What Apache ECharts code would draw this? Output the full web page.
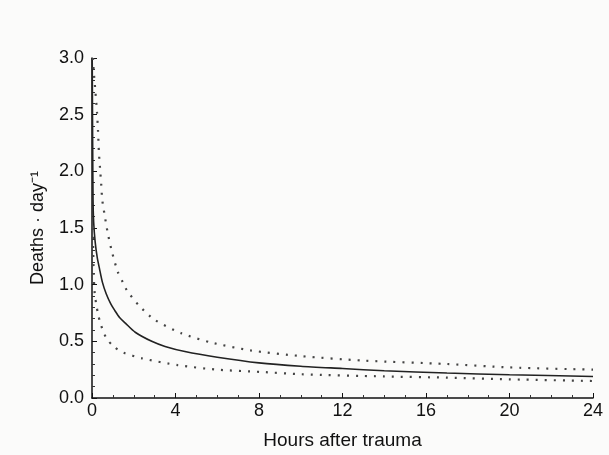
<!DOCTYPE html>
<html>
<head>
<meta charset="utf-8">
<script src="https://cdn.jsdelivr.net/npm/echarts@6/dist/echarts.min.js"></script>
<style>
html,body{margin:0;padding:0;background:#fbfbfa;}
#c{width:609px;height:455px;}
</style>
</head>
<body>
<div id="c"></div>
<script>
// Hours after trauma vs deaths per day
const solidCurve = [
  [0.01, 3.0], [0.03, 2.3], [0.05, 1.75], [0.08, 1.55], [0.15, 1.38], [0.25, 1.24],
  [0.36, 1.14], [0.5, 1.02], [0.68, 0.92], [0.9, 0.83], [1.1, 0.77], [1.32, 0.71],
  [1.6, 0.66], [2.07, 0.58], [2.86, 0.50], [3.5, 0.455], [4.45, 0.41], [6.0, 0.36],
  [8.0, 0.31], [10.0, 0.28], [12.0, 0.26], [14.0, 0.24], [17.0, 0.22], [20.0, 0.205], [24.0, 0.19]
];
const upperCurve = [
  [0.05, 3.0], [0.08, 2.89], [0.16, 2.71], [0.24, 2.52], [0.29, 2.35], [0.33, 2.17],
  [0.4, 1.99], [0.44, 1.89], [0.49, 1.75], [0.6, 1.62], [0.76, 1.45], [0.97, 1.28],
  [1.24, 1.11], [1.48, 1.02], [1.67, 0.95], [2.23, 0.82], [3.0, 0.69], [4.3, 0.57],
  [5.7, 0.49], [7.6, 0.42], [10.0, 0.37], [13.0, 0.33], [17.0, 0.30], [20.0, 0.27], [24.0, 0.25]
];
const lowerCurve = [
  [0.04, 1.5], [0.08, 1.1], [0.13, 0.92], [0.2, 0.83], [0.28, 0.75], [0.4, 0.66],
  [0.68, 0.53], [1.06, 0.45], [1.5, 0.40], [2.4, 0.35], [4.1, 0.29], [6.0, 0.25],
  [8.1, 0.23], [10.0, 0.21], [14.0, 0.19], [17.0, 0.18], [20.0, 0.165], [24.0, 0.15]
];
const xTicks = [0, 4, 8, 12, 16, 20, 24];
const yTicks = [0.0, 0.5, 1.0, 1.5, 2.0, 2.5, 3.0];

const chart = echarts.init(document.getElementById('c'));
const font = 'Liberation Sans, Arial, sans-serif';
chart.setOption({
  backgroundColor: '#fbfbfa',
  animation: false,
  grid: { left: 92, right: 16, top: 58, bottom: 57, containLabel: false },
  xAxis: {
    type: 'value', min: xTicks[0], max: xTicks[xTicks.length - 1], interval: 4,
    name: 'Hours after trauma', nameLocation: 'middle', nameGap: 33,
    nameTextStyle: { fontFamily: font, fontSize: 19, color: '#111' },
    axisLine: { show: true, lineStyle: { color: '#111', width: 1.5 } },
    axisTick: { show: true, inside: true, length: 5, lineStyle: { color: '#111' } },
    minorTick: { show: true, splitNumber: 4, length: 3, lineStyle: { color: '#333' } },
    splitLine: { show: false },
    axisLabel: { fontFamily: font, fontSize: 18, color: '#111', margin: 4 }
  },
  yAxis: {
    type: 'value', min: yTicks[0], max: yTicks[yTicks.length - 1], interval: 0.5,
    name: 'Deaths · day\u207B\u00B9', nameLocation: 'middle', nameGap: 45, nameRotate: 90,
    nameTextStyle: { fontFamily: font, fontSize: 18, color: '#111' },
    axisLine: { show: true, lineStyle: { color: '#111', width: 1.5 } },
    axisTick: { show: true, inside: true, length: 5, lineStyle: { color: '#111' } },
    minorTick: { show: true, splitNumber: 5, length: 3, lineStyle: { color: '#333' } },
    splitLine: { show: false },
    axisLabel: { fontFamily: font, fontSize: 18, color: '#111', margin: 8,
      formatter: v => v.toFixed(1) }
  },
  series: [
    { type: 'line', data: solidCurve, showSymbol: false, smooth: 0.25,
      lineStyle: { color: '#222', width: 1.6 } },
    { type: 'line', data: upperCurve, showSymbol: false, smooth: 0.25,
      lineStyle: { color: '#444', width: 2.2, type: [2, 7] } },
    { type: 'line', data: lowerCurve, showSymbol: false, smooth: 0.25,
      lineStyle: { color: '#444', width: 2.2, type: [2, 7] } }
  ]
});
</script>
</body>
</html>
